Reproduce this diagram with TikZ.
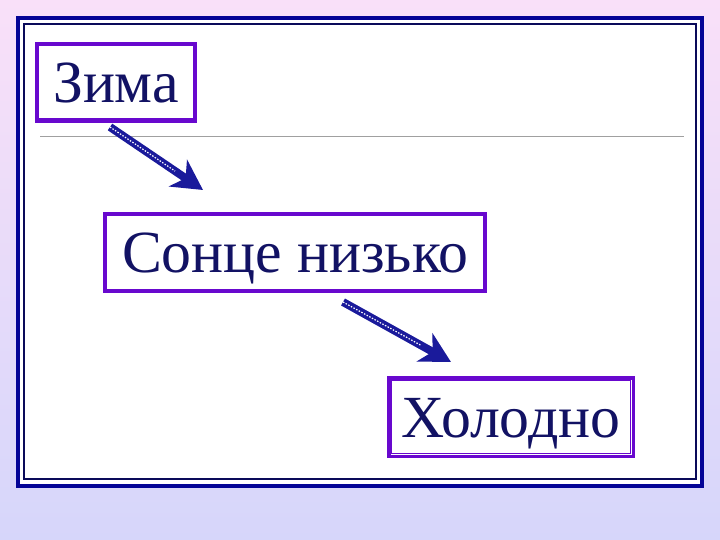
\documentclass[tikz,border=0pt]{standalone}
\usepackage{fontspec}
\setmainfont{Liberation Serif}
\usetikzlibrary{arrows.meta,calc}
\definecolor{bgtop}{RGB}{249,224,249}
\definecolor{bgbot}{RGB}{214,214,250}
\definecolor{frameblue}{RGB}{4,4,150}
\definecolor{thinblue}{RGB}{10,10,90}
\definecolor{boxpurple}{RGB}{104,8,206}
\definecolor{txtnavy}{RGB}{18,18,100}
\definecolor{arrowblue}{RGB}{26,26,155}
\definecolor{rulegray}{RGB}{160,160,160}
\tikzset{
  wordbox/.style={draw=boxpurple, line width=4.5bp, fill=white, text=txtnavy,
    font=\fontsize{60}{70}\selectfont, text height=40bp, text depth=0pt,
    inner sep=0pt, minimum height=76.5bp},
  bigarrow/.style={draw=arrowblue, line width=8bp,
    -{Stealth[length=30bp, width=32bp, inset=9bp]}},
  arrowdots/.style={draw=white, line width=1.2bp, dash pattern=on 1.5bp off 1.5bp}
}
\begin{document}
\begin{tikzpicture}[x=1bp, y=-1bp]
\useasboundingbox (0,0) rectangle (720,540);
\shade[top color=bgtop, bottom color=bgbot] (0,0) rectangle (720,540);
% frame
\draw[frameblue, line width=4bp, fill=white] (18,18) rectangle (702,486);
\draw[thinblue, line width=1.1bp] (24,24) rectangle (696,479);
% rule
\draw[rulegray, line width=1.2bp] (40,136.5) -- (684,136.5);
% boxes
\node[wordbox, minimum width=157.5bp] (b1) at (116,82.5) {Зима};
\node[wordbox, minimum width=379.5bp] (b2) at (295,252.5) {Сонце низько};
\node[wordbox, line width=3.5bp, minimum width=244.5bp, minimum height=78.5bp] (b3) at (511,417) {Холодно};
\draw[boxpurple, line width=1.1bp] ([shift={(4.5bp,-4.5bp)}]b3.north west) rectangle ([shift={(-4.5bp,4.5bp)}]b3.south east);
% arrows
\coordinate (a1s) at (110,127);
\coordinate (a1e) at (203,190);
\coordinate (a2s) at (343,302);
\coordinate (a2e) at (451,362);
\draw[bigarrow] (a1s) -- (a1e);
\draw[arrowdots] (a1s) -- ($(a1s)!0.7!(a1e)$);
\draw[bigarrow] (a2s) -- (a2e);
\draw[arrowdots] (a2s) -- ($(a2s)!0.72!(a2e)$);
\end{tikzpicture}
\end{document}
